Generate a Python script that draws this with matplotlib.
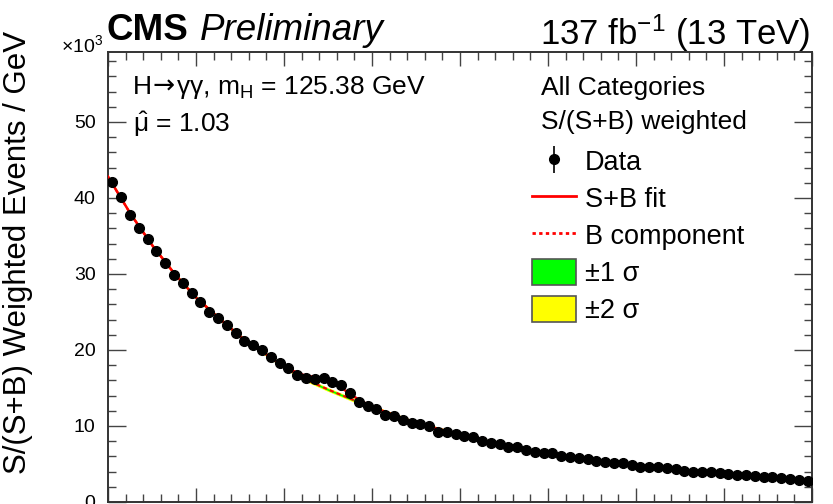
import numpy as np
import matplotlib
matplotlib.use("Agg")
import matplotlib.pyplot as plt
from matplotlib.patches import Patch
from matplotlib.lines import Line2D
from matplotlib.ticker import MultipleLocator

plt.rcParams['font.family'] = ['Liberation Sans', 'DejaVu Sans']
plt.rcParams['mathtext.fontset'] = 'custom'
plt.rcParams['mathtext.rm'] = 'Liberation Sans'
plt.rcParams['mathtext.it'] = 'Liberation Sans:italic'
plt.rcParams['mathtext.sf'] = 'Liberation Sans'

# ---------------- data (x10^3 weighted events / GeV) ----------------
mass_lo, mass_hi, n_bins = 100.0, 180.0, 80
data_vals = [
    42.1, 40.1, 37.8, 36.1, 34.6, 33.0, 31.5, 29.9, 28.8, 27.5,
    26.3, 25.0, 24.2, 23.3, 22.2, 21.2, 20.7, 20.0, 19.1, 18.3,
    17.6, 16.7, 16.3, 16.2, 16.35, 15.8, 15.4, 14.3, 13.2, 12.6,
    12.2, 11.4, 11.3, 10.8, 10.35, 10.2, 10.0, 9.25, 9.25, 9.0,
    8.7, 8.6, 8.0, 7.8, 7.6, 7.3, 7.2, 6.85, 6.6, 6.5,
    6.45, 6.1, 5.95, 5.8, 5.65, 5.4, 5.3, 5.1, 5.1, 4.87,
    4.57, 4.64, 4.57, 4.5, 4.34, 4.08, 4.0, 3.9, 4.0, 3.78,
    3.64, 3.55, 3.55, 3.46, 3.33, 3.33, 3.2, 3.03, 2.9, 2.76,
]
data_err = 0.15

# background component nodes
bkg_mass = [100, 102.5, 105, 107.5, 110, 112.5, 115, 117.5, 120, 122.5, 125,
            127.5, 130, 135, 140, 145, 150, 155, 160, 165, 170, 175, 180]
bkg_vals = [42.8, 38.0, 33.8, 30.1, 26.9, 24.3, 21.8, 19.8, 17.8, 16.1, 14.8,
            13.6, 12.5, 10.4, 8.85, 7.45, 6.4, 5.5, 4.75, 4.15, 3.7, 3.3, 2.8]
# signal component nodes
sig_mass = [119, 120, 121, 122, 123, 124, 125, 126, 127, 128, 129, 130, 131]
sig_vals = [0.0, 0.05, 0.15, 0.35, 0.7, 1.05, 1.2, 1.1, 0.8, 0.45, 0.2, 0.08, 0.0]
band1 = 0.12
band2 = 0.25

# ---------------- figure ----------------
W, H = 833, 504
fig = plt.figure(figsize=(W / 100, H / 100), dpi=100)
L, R, T, B = 108, 812, 52, 502
ax = fig.add_axes([L / W, 1 - B / H, (R - L) / W, (B - T) / H])

edges = np.linspace(mass_lo, mass_hi, n_bins + 1)
centers = 0.5 * (edges[:-1] + edges[1:])

grid = np.linspace(mass_lo, mass_hi, 801)
bkg = np.interp(grid, bkg_mass, bkg_vals)
sb = bkg + np.interp(grid, sig_mass, sig_vals, left=0, right=0)

ax.fill_between(grid, bkg - band2, bkg + band2, color='#ffff00', lw=0, zorder=1)
ax.fill_between(grid, bkg - band1, bkg + band1, color='#00ff00', lw=0, zorder=2)
ax.plot(grid, bkg, color='red', ls=(0, (2, 1.5)), lw=1.5, zorder=3)
ax.plot(grid, sb, color='red', lw=1.8, zorder=4)
ax.errorbar(centers, data_vals, yerr=data_err, fmt='o', color='black',
            ms=7, elinewidth=1.2, capsize=0, zorder=5)

ax.set_xlim(mass_lo, mass_hi)
ax.set_ylim(0, 59.2)
ax.xaxis.set_major_locator(MultipleLocator(10))
ax.xaxis.set_minor_locator(MultipleLocator(2))
ax.yaxis.set_major_locator(MultipleLocator(10))
ax.yaxis.set_minor_locator(MultipleLocator(2))
ax.tick_params(which='both', direction='in', top=True, right=True,
               color='#444444', width=1.0)
ax.tick_params(axis='y', which='major', length=13, labelsize=14, pad=9)
ax.tick_params(axis='y', which='minor', length=6)
ax.tick_params(axis='x', which='major', length=10, labelsize=14)
ax.tick_params(axis='x', which='minor', length=6)
for s in ax.spines.values():
    s.set_linewidth(1.4)
    s.set_color('#333333')

def px(x, y):
    return x / W, 1 - y / H

# header texts
fig.text(*px(107, 31), 'CMS', fontsize=26.5, fontweight='bold', ha='left', va='center')
fig.text(*px(200, 31), 'Preliminary', fontsize=26.5, style='italic', ha='left', va='center')
fig.text(*px(810, 33), r'137 fb$^{-1}$ (13 TeV)', fontsize=25, ha='right', va='center')
fig.text(*px(61, 45), r'$\times$10$^{3}$', fontsize=14, ha='left', va='center')

# y label
fig.text(*px(18, 252), 'S/(S+B) Weighted Events / GeV', fontsize=22.5,
         rotation=90, ha='center', va='center')

# info texts (process line assembled from pieces so the arrow uses DejaVu Sans)
fig.canvas.draw()
renderer = fig.canvas.get_renderer()
base_y = 1 - 94 / H
pieces = [
    ('H', ['Liberation Sans']),
    ('\u2192', ['DejaVu Sans']),
    (r'γγ, m$_\mathrm{H}$ = 125.38 GeV', ['Liberation Sans']),
]
xcur = 133
for txt, fam in pieces:
    t = fig.text(xcur / W, base_y, txt, fontsize=19, family=fam,
                 ha='left', va='baseline')
    xcur = t.get_window_extent(renderer).x1 + 1
fig.text(*px(133, 124), r'$\hat{\mathrm{\mu}}$ = 1.03', fontsize=19, ha='left', va='center')
fig.text(*px(541, 88), 'All Categories', fontsize=19, ha='left', va='center')
fig.text(*px(541, 122), 'S/(S+B) weighted', fontsize=19, ha='left', va='center')

# legend
h_data = ax.errorbar([], [], yerr=[], fmt='o', color='black', ms=7, elinewidth=1.2)
handles = [
    h_data,
    Line2D([], [], color='red', lw=2.0),
    Line2D([], [], color='red', lw=2.0, ls=(0, (1.2, 1.2))),
    Patch(facecolor='#00ff00', edgecolor='#555555', lw=1.2),
    Patch(facecolor='#ffff00', edgecolor='#555555', lw=1.2),
]
labels = ['Data', 'S+B fit', 'B component', '±1 σ', '±2 σ']
leg = ax.legend(handles, labels, loc='upper left',
                bbox_to_anchor=(508 / W, 1 - 124 / H),
                bbox_transform=fig.transFigure, frameon=False, fontsize=19.5,
                handlelength=1.6, handleheight=1.05, labelspacing=0.34,
                handletextpad=0.33, borderpad=0.4)

fig.savefig('out.png', dpi=100)
